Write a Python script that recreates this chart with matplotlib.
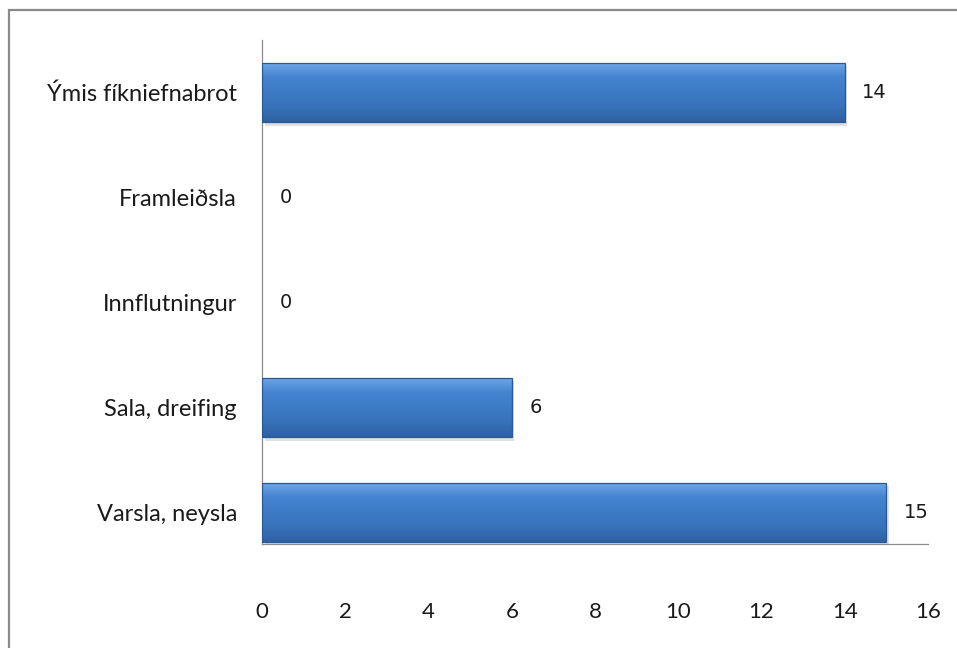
import numpy as np
import matplotlib
matplotlib.use("Agg")
import matplotlib.pyplot as plt
from matplotlib.patches import Rectangle
from matplotlib.colors import LinearSegmentedColormap

categories = ["Varsla, neysla", "Sala, dreifing", "Innflutningur", "Framleiðsla", "Ýmis fíkniefnabrot"]
values = [15, 6, 0, 0, 14]
x_ticks = [0, 2, 4, 6, 8, 10, 12, 14, 16]

BAR = "#3D7AC4"
EDGE = "#2A5A96"
AXIS = "#8C8C8C"
TEXT = "#1A1A1A"

plt.rcParams["font.family"] = ["Lato", "DejaVu Sans"]

fig = plt.figure(figsize=(9.57, 6.48), dpi=100)
ax = fig.add_axes([0.2738, 0.1605, 0.9697 - 0.2738, 0.9383 - 0.1605])

y = np.arange(len(categories))
bar_h = 0.57
bars = ax.barh(y, values, height=bar_h, color=BAR, linewidth=0, zorder=3)

# vertical gradient on each bar (light top, darker bottom)
grad_cmap = LinearSegmentedColormap.from_list(
    "bevel", ["#2E61A3", "#3872B9", "#3D7BC7", "#4584D0", "#70A9E9"])
grad = np.linspace(0, 1, 256).reshape(-1, 1)
for rect, val in zip(bars, values):
    x0, y0 = rect.get_x(), rect.get_y()
    w, h = rect.get_width(), rect.get_height()
    if val > 0:
        # shadow
        ax.add_patch(Rectangle((x0 + 0.06, y0 - 0.035), w, h, facecolor="#000000",
                               alpha=0.12, linewidth=0, zorder=2))
        im = ax.imshow(grad, extent=(x0, x0 + w, y0, y0 + h), origin="lower",
                       cmap=grad_cmap, aspect="auto", zorder=3.5)
        im.set_clip_path(rect)
        ax.add_patch(Rectangle((x0, y0), w, h, facecolor="none", edgecolor=EDGE,
                               linewidth=0.9, zorder=4))
    ax.text(val + 0.42, y0 + h / 2, str(val), ha="left", va="center",
            fontsize=14, color=TEXT, family="DejaVu Sans", zorder=5)

ax.set_xlim(0, 16)
ax.set_ylim(-0.3, 4.5)
ax.set_xticks(x_ticks)
ax.set_xticklabels([str(t) for t in x_ticks])
ax.set_yticks(y)
ax.set_yticklabels(categories)
ax.tick_params(axis="x", length=0, pad=42, labelsize=16, labelcolor=TEXT)
ax.tick_params(axis="y", length=0, pad=18, labelsize=17, labelcolor=TEXT)

for s in ("top", "right"):
    ax.spines[s].set_visible(False)
for s in ("left", "bottom"):
    ax.spines[s].set_color(AXIS)
    ax.spines[s].set_linewidth(0.9)

# outer chart border (cut off at right and bottom)
fig.patches.append(Rectangle((9 / 957, -0.05), 1.2, 1 - 10 / 648 + 0.05,
                             transform=fig.transFigure, facecolor="none",
                             edgecolor="#8A8A8A", linewidth=1.6, zorder=0))

fig.savefig("out.png", dpi=100, facecolor="white")
